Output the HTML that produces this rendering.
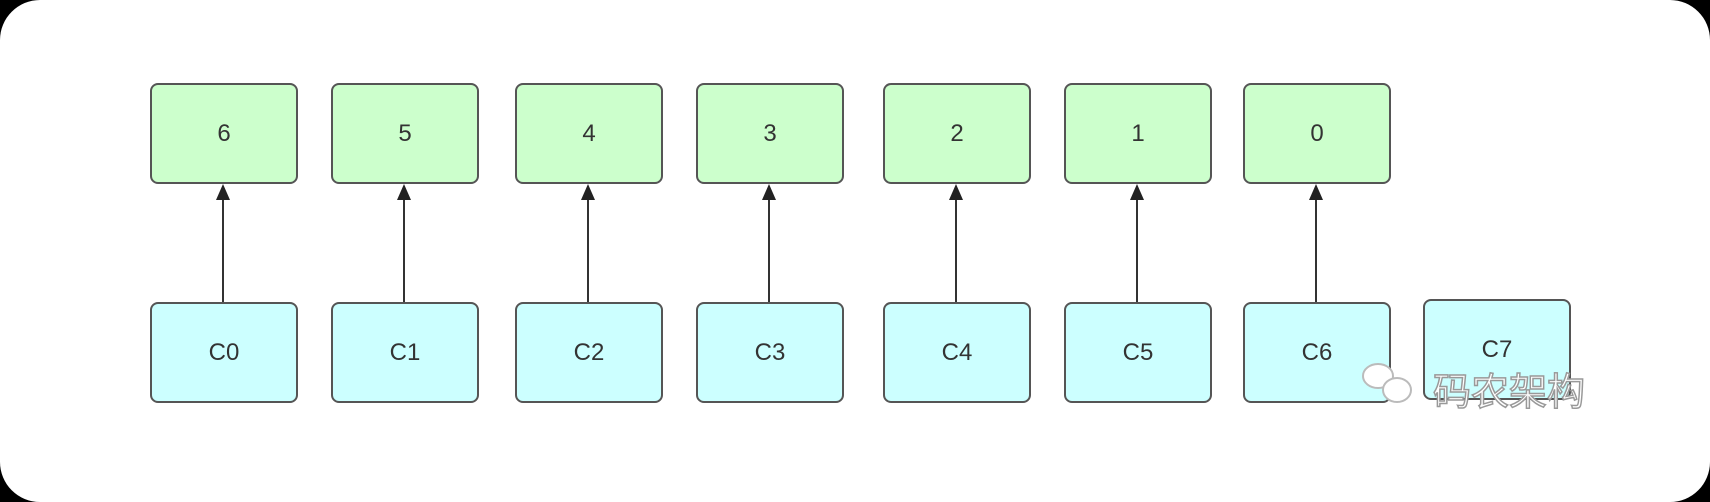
<!DOCTYPE html>
<html><head><meta charset="utf-8"><style>
html,body{margin:0;padding:0;background:#000;}
body{width:1710px;height:502px;overflow:hidden;position:relative;}
.card{position:absolute;left:0;top:0;width:1710px;height:502px;background:#fff;border-radius:40px;}
.b{position:absolute;width:144px;height:97px;border:2px solid #555;border-radius:8px;box-sizing:content-box;display:flex;align-items:center;justify-content:center;font-family:"Liberation Sans",sans-serif;font-size:24px;color:#333;}
.g{background:#ccffcc;top:83px;}
.c{background:#ccffff;top:302px;}
</style></head><body><div class="card"></div>
<div class="b g" style="left:150px">6</div>
<div class="b g" style="left:331px">5</div>
<div class="b g" style="left:515px">4</div>
<div class="b g" style="left:696px">3</div>
<div class="b g" style="left:883px">2</div>
<div class="b g" style="left:1064px">1</div>
<div class="b g" style="left:1243px">0</div>
<div class="b c" style="left:150px">C0</div>
<div class="b c" style="left:331px">C1</div>
<div class="b c" style="left:515px">C2</div>
<div class="b c" style="left:696px">C3</div>
<div class="b c" style="left:883px">C4</div>
<div class="b c" style="left:1064px">C5</div>
<div class="b c" style="left:1243px">C6</div>
<div class="b c" style="left:1423px;top:299px">C7</div>
<svg width="1710" height="502" style="position:absolute;left:0;top:0">
<g stroke="#333" stroke-width="2" fill="#222">
<line x1="223" y1="302" x2="223" y2="198"/><polygon points="223,184 216,200 230,200" stroke="none"/>
<line x1="404" y1="302" x2="404" y2="198"/><polygon points="404,184 397,200 411,200" stroke="none"/>
<line x1="588" y1="302" x2="588" y2="198"/><polygon points="588,184 581,200 595,200" stroke="none"/>
<line x1="769" y1="302" x2="769" y2="198"/><polygon points="769,184 762,200 776,200" stroke="none"/>
<line x1="956" y1="302" x2="956" y2="198"/><polygon points="956,184 949,200 963,200" stroke="none"/>
<line x1="1137" y1="302" x2="1137" y2="198"/><polygon points="1137,184 1130,200 1144,200" stroke="none"/>
<line x1="1316" y1="302" x2="1316" y2="198"/><polygon points="1316,184 1309,200 1323,200" stroke="none"/>
</g>
<g fill="#fff" stroke="#bbb" stroke-width="2">
<ellipse cx="1378" cy="376" rx="15" ry="12"/><ellipse cx="1397" cy="390" rx="14" ry="12"/>
</g>
<text x="1433" y="405" font-family="'Noto Sans CJK SC',sans-serif" font-size="38" fill="#fff" stroke="#999" stroke-width="1.5">码农架构</text>
</svg>
</body></html>
